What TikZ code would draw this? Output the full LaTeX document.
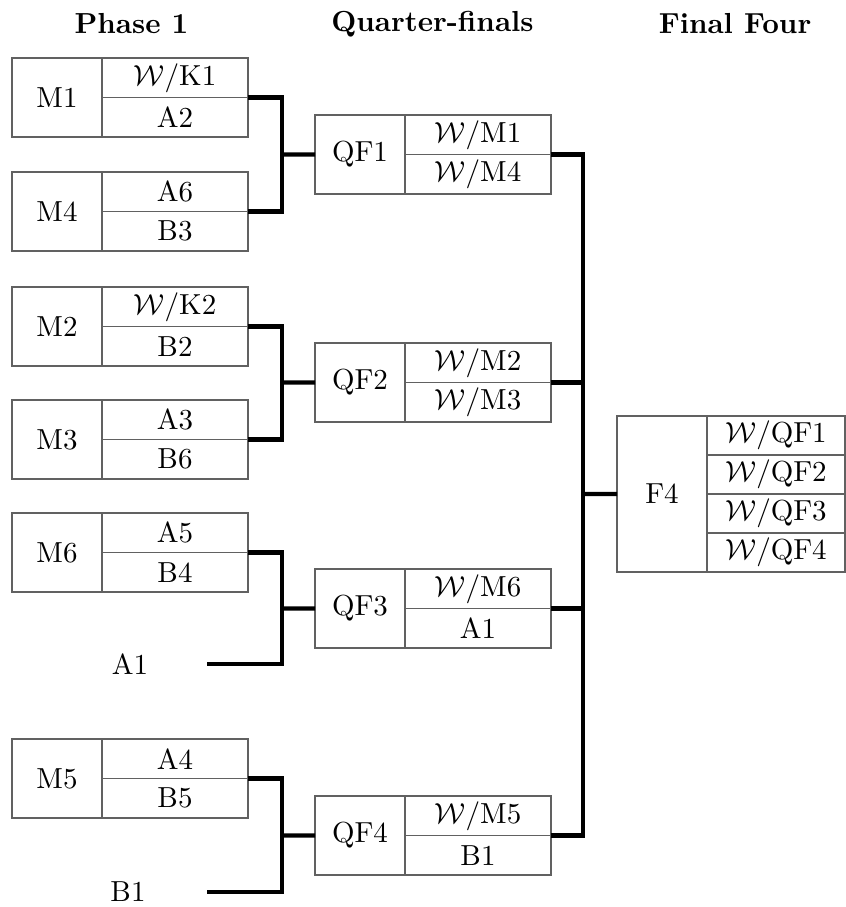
\documentclass[tikz,border=0pt]{standalone}
\usepackage{amsmath}
\begin{document}
\begin{tikzpicture}[x=0.345pt,y=-0.345pt,
  cellL/.style={draw=black!62,line width=0.6pt,minimum width=31.05pt,minimum height=27.255pt,inner sep=0pt,outer sep=0pt,anchor=north west},
  cellR/.style={draw=black!62,line width=0.6pt,minimum width=50.37pt,minimum height=13.63pt,inner sep=0pt,outer sep=0pt,anchor=north west},
  finR/.style={cellR,minimum width=47.6pt,minimum height=13.455pt},
  conn/.style={line width=1.5pt},
  head/.style={font=\bfseries,anchor=center}]
\useasboundingbox (0,0) rectangle (845,907);
\newcommand{\matchbox}[6]{%
  \node[cellL] (#1) at (#2,#3) {#4};
  \node[cellR] (#1a) at (#1.north east) {#5};
  \node[cellR] (#1b) at (#1a.south west) {#6};}
\def\W{$\mathcal{W}/$}
% headings
\node[head] (h1) at (131.5,24) {Phase 1};
\node[head] (h2) at (432.5,24) {Quarter-finals};
\node[head] (h3) at (735,24) {Final Four};
% phase 1
\matchbox{m1}{12}{58}{M1}{\W K1}{A2}
\matchbox{m4}{12}{172}{M4}{A6}{B3}
\matchbox{m2}{12}{287}{M2}{\W K2}{B2}
\matchbox{m3}{12}{400}{M3}{A3}{B6}
\matchbox{m6}{12}{513}{M6}{A5}{B4}
\matchbox{m5}{12}{739}{M5}{A4}{B5}
\node (a1) at (130,664) {A1};
\node (b1) at (128,892) {B1};
\coordinate (a1s) at (207,664);
\coordinate (b1s) at (207,892);
% quarter-finals
\matchbox{qf1}{315}{115}{QF1}{\W M1}{\W M4}
\matchbox{qf2}{315}{343}{QF2}{\W M2}{\W M3}
\matchbox{qf3}{315}{569}{QF3}{\W M6}{A1}
\matchbox{qf4}{315}{796}{QF4}{\W M5}{B1}
% final four
\node[cellL,minimum height=53.82pt] (f4) at (617,416) {F4};
\node[finR] (f4a) at (f4.north east) {\W QF1};
\node[finR] (f4b) at (f4a.south west) {\W QF2};
\node[finR] (f4c) at (f4b.south west) {\W QF3};
\node[finR] (f4d) at (f4c.south west) {\W QF4};
% junctions
\coordinate (j1) at (282,154.5);
\coordinate (j2) at (282,382.5);
\coordinate (j3) at (282,608.5);
\coordinate (j4) at (282,835.5);
\coordinate (jf) at (583,494);
% connectors
\draw[conn] (m1a.south east) -| (j1) |- (m4a.south east);
\draw[conn] (m2a.south east) -| (j2) |- (m3a.south east);
\draw[conn] (m6a.south east) -| (j3) |- (a1s);
\draw[conn] (m5a.south east) -| (j4) |- (b1s);
\draw[conn] (j1) -- (qf1.west);
\draw[conn] (j2) -- (qf2.west);
\draw[conn] (j3) -- (qf3.west);
\draw[conn] (j4) -- (qf4.west);
\draw[conn] (qf1a.south east) -| (jf);
\draw[conn] (qf2a.south east) -| (jf);
\draw[conn] (qf3a.south east) -| (jf);
\draw[conn] (qf4a.south east) -| (jf);
\draw[conn] (jf) -- (f4.west);
\end{tikzpicture}
\end{document}
